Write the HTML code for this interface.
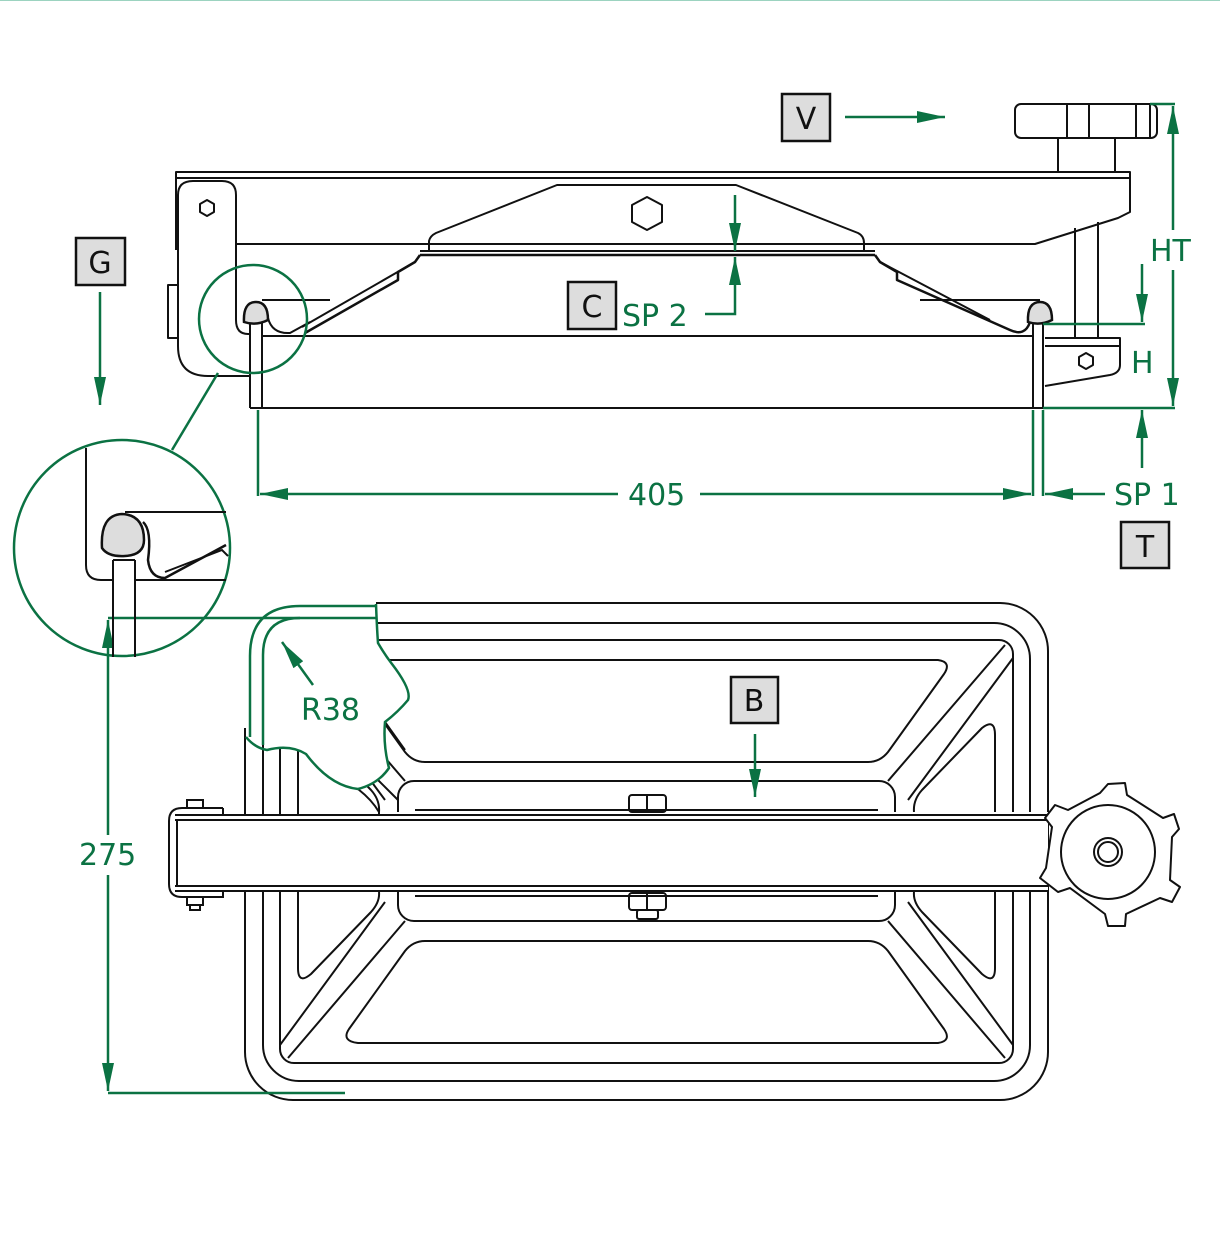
<!DOCTYPE html>
<html><head><meta charset="utf-8"><style>
html,body{margin:0;padding:0;background:#fff;}
svg{display:block;}
text{font-family:"DejaVu Sans","Liberation Sans",sans-serif;}
</style></head><body>
<svg width="1220" height="1240" viewBox="0 0 1220 1240" xmlns="http://www.w3.org/2000/svg">
<defs>
<marker id="ar2" viewBox="0 0 10 10" refX="10" refY="5" markerWidth="28" markerHeight="12" markerUnits="userSpaceOnUse" orient="auto-start-reverse" preserveAspectRatio="none"><path d="M0,0 L10,5 L0,10 z" fill="#0b7243"/></marker>
</defs>
<line x1="0" y1="0.5" x2="1220" y2="0.5" stroke="#9cd3c0" stroke-width="1"/>

<!-- ============ TOP VIEW ============ -->
<g fill="none" stroke="#111" stroke-width="2" stroke-linejoin="round">
  <path d="M176,250 L176,172 L1130,172 L1130,212 L1118,218 L1035,244 L236,244"/>
  <line x1="176" y1="178" x2="1130" y2="178"/>
  <!-- left bracket -->
  <path d="M193,181 L222,181 Q236,181 236,195 L236,320 Q236,334 248,334 L250,334 L250,376 L208,376 Q178,376 178,346 L178,195 Q178,181 193,181"/>
  <rect x="168" y="285" width="10" height="53"/>
  <polygon points="207,200 214,204 214,212 207,216 200,212 200,204"/>
  <path d="M429,251 L429,241 Q430,236 436,233 L557,185 L736,185 L858,233 Q864,236 864,243 L864,251"/>
  <polygon points="647,197 662,205 662,222 647,230 632,222 632,205"/>
  <line x1="420" y1="251" x2="875" y2="251"/>
  <line x1="420" y1="255" x2="875" y2="255" stroke-width="2.5"/>
  <path d="M420,255 L415,262 L398,272 L398,280 L305,333" stroke-width="2.5"/>
  <path d="M415,262 L302,327"/>
  <path d="M268,318 Q272,334 290,333 L310,322"/>
  <path d="M875,255 L880,262 L897,272 L897,280 L1010,330 Q1025,337 1030,322" stroke-width="2.5"/>
  <path d="M880,262 L990,320"/>
  <line x1="262" y1="300" x2="330" y2="300"/>
  <line x1="920" y1="300" x2="1040" y2="300"/>
  <line x1="262" y1="336" x2="1033" y2="336"/>
  <line x1="250" y1="408" x2="1043" y2="408"/>
  <line x1="250" y1="322" x2="250" y2="408"/>
  <line x1="262" y1="322" x2="262" y2="408"/>
  <line x1="1033" y1="322" x2="1033" y2="408"/>
  <line x1="1043" y1="322" x2="1043" y2="408"/>
  <path d="M1045,338 L1120,338 L1120,365 Q1120,373 1110,375 L1045,386"/>
  <line x1="1045" y1="346" x2="1120" y2="346"/>
  <line x1="1075" y1="228" x2="1075" y2="338"/>
  <line x1="1098" y1="222" x2="1098" y2="338"/>
  <polygon points="1086,353 1093,357 1093,365 1086,369 1079,365 1079,357"/>
  <rect x="1015" y="104" width="142" height="34" rx="6"/>
  <line x1="1067" y1="104" x2="1067" y2="138"/>
  <line x1="1089" y1="104" x2="1089" y2="138"/>
  <line x1="1136" y1="104" x2="1136" y2="138"/>
  <line x1="1150" y1="104" x2="1150" y2="138"/>
  <line x1="1058" y1="138" x2="1058" y2="172"/>
  <line x1="1115" y1="138" x2="1115" y2="172"/>
</g>
<path d="M244,322 Q243,302 256,302 Q268,302 268,320 Q256,326 244,322 Z" fill="#ddd" stroke="#111" stroke-width="2.5"/>
<path d="M1028,322 Q1027,302 1040,302 Q1052,302 1052,320 Q1040,326 1028,322 Z" fill="#ddd" stroke="#111" stroke-width="2.5"/>

<!-- ============ BOTTOM VIEW ============ -->
<g fill="none" stroke="#111" stroke-width="2" stroke-linejoin="round">
  <rect x="245" y="603" width="803" height="497" rx="48"/>
  <rect x="263" y="623" width="767" height="458" rx="36"/>
  <rect x="280" y="640" width="733" height="423" rx="14"/>
  <path d="M358,660 L938,660 Q952,662 944,674 L888,752 Q880,762 868,762 L425,762 Q413,762 405,752 L349,674 Q341,662 358,660 Z"/>
  <path d="M425,941 L868,941 Q880,941 888,951 L944,1029 Q952,1041 938,1043 L358,1043 Q341,1041 349,1029 L405,951 Q413,941 425,941 Z"/>
  <rect x="398" y="781" width="497" height="140" rx="16"/>
  <path d="M888,781 L1005,645 M908,800 L1013,658"/>
  <path d="M888,921 L1005,1058 M908,902 L1013,1045"/>
  <path d="M405,781 L288,645 M385,800 L280,658"/>
  <path d="M405,921 L288,1058 M385,902 L280,1045"/>
  <path d="M914,812 Q913,800 922,790 L982,728 Q995,718 995,735 L995,968 Q995,985 982,974 L922,912 Q913,902 914,892"/>
  <path d="M379,812 Q380,800 371,790 L311,728 Q298,718 298,735 L298,968 Q298,985 311,974 L371,912 Q380,902 379,892"/>
</g>
<rect x="175" y="812" width="873" height="80" fill="#fff" stroke="none"/>
<g fill="none" stroke="#111" stroke-width="2">
  <line x1="415" y1="810" x2="878" y2="810"/>
  <line x1="415" y1="896" x2="878" y2="896"/>
  <path d="M175,815 L1048,815 M175,820 L1048,820 M175,886 L1048,886 M175,891 L1048,891"/>
  <path d="M223,808 L182,808 Q169,808 169,821 L169,884 Q169,897 182,897 L223,897 L223,891 M223,808 L223,815"/>
  <line x1="177" y1="820" x2="177" y2="886"/>
  <rect x="187" y="800" width="16" height="8"/>
  <rect x="187" y="897" width="16" height="8"/>
  <rect x="190" y="905" width="10" height="5"/>
  <rect x="629" y="795" width="37" height="17" rx="3"/>
  <line x1="647" y1="795" x2="647" y2="812"/>
  <rect x="629" y="893" width="37" height="17" rx="3"/>
  <line x1="647" y1="893" x2="647" y2="910"/>
  <rect x="637" y="910" width="21" height="9" rx="2"/>
</g>
<g stroke="#111" stroke-width="2" fill="#fff">
  <path d="M1108,784 L1125,783 L1127,795 L1163,818 L1174,814 L1179,829 L1172,837 L1170,880 L1180,887 L1172,902 L1160,898 L1126,914 L1125,926 L1108,926 L1105,914 L1070,888 L1058,892 L1040,878 L1046,868 L1052,827 L1045,818 L1055,805 L1068,810 L1100,793 Z" stroke-linejoin="round"/>
  <circle cx="1108" cy="852" r="47"/>
  <circle cx="1108" cy="852" r="14"/>
  <circle cx="1108" cy="852" r="10"/>
</g>

<path d="M240,600 L376,600 L376,604 Q377,630 378,643 Q385,655 392,664 Q412,690 408,700 Q398,712 385,722 Q383,745 389,768 Q378,784 358,789 Q330,786 306,754 Q290,744 267,750 Q255,748 246,737 L240,737 Z" fill="#fff"/>
<g fill="none" stroke="#111" stroke-width="2">
  <line x1="245" y1="728" x2="245" y2="815"/>
  <line x1="263" y1="742" x2="263" y2="815"/>
  <line x1="280" y1="748" x2="280" y2="815"/>
  <line x1="298" y1="752" x2="298" y2="815"/>
  <path d="M358,789 Q372,800 379,812 L379,815"/>
  <path d="M378,780 L398,800"/>
  <path d="M385,722 L405,750"/>
</g>

<g fill="none" stroke="#0b7243" stroke-width="2.5">
  <path d="M376,604 Q377,630 378,643 Q385,655 392,664 Q412,690 408,700 Q398,712 385,722 Q383,745 389,768 Q378,784 358,789 Q330,786 306,754 Q290,744 267,750 Q255,748 246,737"/>
  <path d="M376,606 L300,606 Q250,606 250,656 L250,737"/>
  <path d="M300,618 Q263,618 263,655 L263,745"/>
  <line x1="313" y1="685" x2="282" y2="642" marker-end="url(#ar2)"/>
  <line x1="108" y1="618" x2="376" y2="618"/>
  <line x1="108" y1="1093" x2="345" y2="1093"/>
  <line x1="108" y1="835" x2="108" y2="620" marker-end="url(#ar2)"/>
  <line x1="108" y1="875" x2="108" y2="1091" marker-end="url(#ar2)"/>
  <circle cx="253" cy="319" r="54"/>
  <line x1="218" y1="373" x2="172" y2="450"/>
  <circle cx="122" cy="548" r="108"/>
  <line x1="258" y1="410" x2="258" y2="496"/>
  <line x1="1033" y1="410" x2="1033" y2="496"/>
  <line x1="1043" y1="410" x2="1043" y2="496"/>
  <line x1="618" y1="494" x2="260" y2="494" marker-end="url(#ar2)"/>
  <line x1="700" y1="494" x2="1031" y2="494" marker-end="url(#ar2)"/>
  <line x1="1105" y1="494" x2="1045" y2="494" marker-end="url(#ar2)"/>
  <line x1="1150" y1="104" x2="1175" y2="104"/>
  <line x1="1043" y1="408" x2="1175" y2="408"/>
  <line x1="1173" y1="230" x2="1173" y2="106" marker-end="url(#ar2)"/>
  <line x1="1173" y1="270" x2="1173" y2="406" marker-end="url(#ar2)"/>
  <line x1="1043" y1="324" x2="1145" y2="324"/>
  <line x1="1142" y1="264" x2="1142" y2="322" marker-end="url(#ar2)"/>
  <line x1="1142" y1="468" x2="1142" y2="410" marker-end="url(#ar2)"/>
  <line x1="735" y1="195" x2="735" y2="251" marker-end="url(#ar2)"/>
  <path d="M705,314 L735,314 L735,257" marker-end="url(#ar2)"/>
  <line x1="845" y1="117" x2="945" y2="117" marker-end="url(#ar2)"/>
  <line x1="100" y1="292" x2="100" y2="405" marker-end="url(#ar2)"/>
  <line x1="755" y1="734" x2="755" y2="797" marker-end="url(#ar2)"/>
</g>

<g fill="none" stroke="#111" stroke-width="2">
  <path d="M86,448 L86,565 Q86,580 101,580 L113,580"/>
  <path d="M125,512 L226,512"/>
  <path d="M136,580 L226,580"/>
  <line x1="113" y1="560" x2="113" y2="657"/>
  <line x1="135" y1="560" x2="135" y2="657"/>
  <line x1="113" y1="560" x2="135" y2="560"/>
  <path d="M143,522 Q152,530 148,560 Q150,578 165,578 L226,545" stroke-width="2.5"/>
  <path d="M165,572 L222,550 L228,556"/>
</g>
<path d="M102,548 Q100,515 122,514 Q144,515 144,540 Q144,555 125,556 Q108,557 102,548 Z" fill="#ddd" stroke="#111" stroke-width="2.5"/>

<g fill="#ddd" stroke="#111" stroke-width="2.5">
  <rect x="782" y="94" width="48" height="47"/>
  <rect x="76" y="238" width="49" height="47"/>
  <rect x="568" y="282" width="48" height="47"/>
  <rect x="1121" y="522" width="48" height="46"/>
  <rect x="731" y="677" width="47" height="46"/>
</g>
<g font-size="30" fill="#111" text-anchor="middle">
  <text x="806" y="129">V</text>
  <text x="100" y="273">G</text>
  <text x="592" y="317">C</text>
  <text x="1145" y="557">T</text>
  <text x="754" y="711">B</text>
</g>
<g font-size="30" fill="#0b7243">
  <text x="622" y="326">SP 2</text>
  <text x="628" y="505">405</text>
  <text x="1114" y="505">SP 1</text>
  <text x="1150" y="261">HT</text>
  <text x="1131" y="373">H</text>
  <text x="301" y="720">R38</text>
  <text x="79" y="865">275</text>
</g>
</svg>
</body></html>
